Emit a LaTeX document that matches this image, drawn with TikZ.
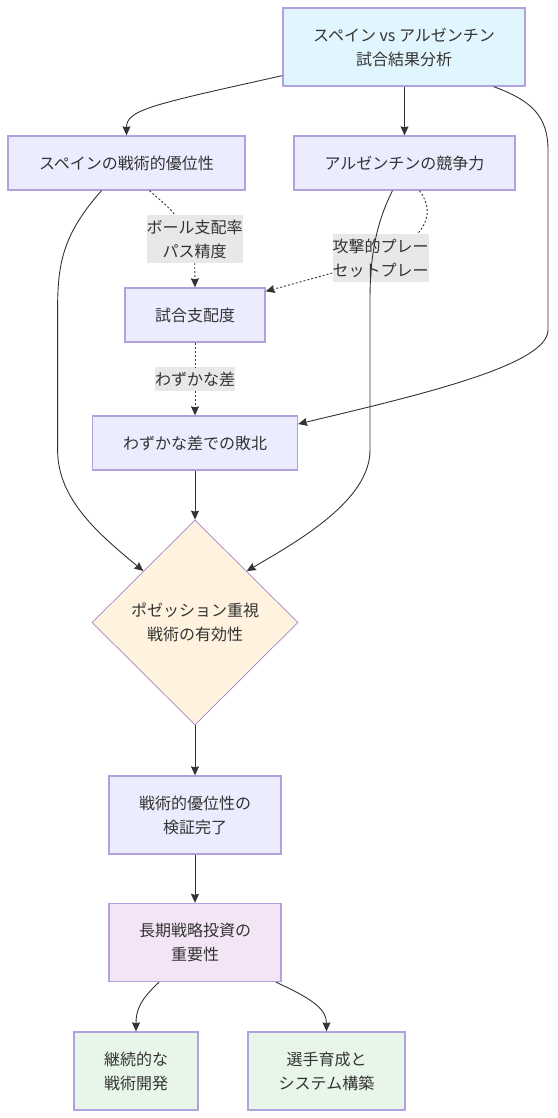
\documentclass[tikz,border=0pt]{standalone}
\usepackage{fontspec}
\setmainfont{Noto Sans CJK JP}
\usetikzlibrary{arrows.meta,shapes.geometric}
\definecolor{ink}{HTML}{333333}
\definecolor{boxline}{HTML}{B0A2DE}
\definecolor{boxfill}{HTML}{ECECFF}
\definecolor{topfill}{HTML}{E1F5FE}
\definecolor{orangefill}{HTML}{FFF3E0}
\definecolor{purplefill}{HTML}{F3E5F5}
\definecolor{greenfill}{HTML}{E8F5E9}
\definecolor{lblfill}{HTML}{E8E8E8}
\begin{document}
\begin{tikzpicture}[x=1pt,y=-1pt,font=\fontsize{16}{24}\selectfont,
    box/.style={rectangle,draw=boxline,line width=1.3pt,fill=boxfill,text=ink,align=center,inner sep=0pt,minimum height=54pt},
    lbl/.style={fill=lblfill,text=ink,align=center,inner sep=0pt},
    link/.style={draw=ink,line width=0.9pt,-{Stealth[length=9pt,width=8pt,inset=1pt]}},
    dot line/.style={draw=ink,line width=0.9pt,dash pattern=on 2pt off 2pt},
    dot link/.style={link,dash pattern=on 2pt off 2pt}]
        \useasboundingbox (0,0) rectangle (557,1118);
        \node [box, fill=topfill, minimum width=242pt, minimum height=78pt] (1) at (404,47) {スペイン vs アルゼンチン\\試合結果分析};
        \node [box, minimum width=237pt] (2) at (126.5,163) {スペインの戦術的優位性};
        \node [box, minimum width=221pt] (3) at (404.5,163) {アルゼンチンの競争力};
        \node [box, minimum width=140pt] (4) at (195,315) {試合支配度};
        \node [box, minimum width=205pt] (5) at (195,443) {わずかな差での敗北};
        \node [diamond, draw=boxline!80!violet, line width=0.7pt, fill=orangefill, text=ink, align=center, inner sep=0pt, minimum width=206pt, minimum height=205pt] (6) at (195,622.5) {ポゼッション重視\\戦術の有効性};
        \node [box, minimum width=172pt, minimum height=78pt] (7) at (195,815) {戦術的優位性の\\検証完了};
        \node [box, fill=purplefill, minimum width=172pt, minimum height=78pt] (8) at (195,942.5) {長期戦略投資の\\重要性};
        \node [box, fill=greenfill, minimum width=124pt, minimum height=78pt] (9) at (136,1071) {継続的な\\戦術開発};
        \node [box, fill=greenfill, minimum width=157pt, minimum height=78pt] (10) at (326.5,1071) {選手育成と\\システム構築};
        % edge labels
        \node [lbl, minimum width=96pt, minimum height=48pt] (11) at (194.7,239) {ボール支配率\\パス精度};
        \node [lbl, minimum width=96pt, minimum height=48pt] (12) at (380.5,258) {攻撃的プレー\\セットプレー};
        \node [lbl, minimum width=80pt, minimum height=24pt] (13) at (195,379) {わずかな差};
        % connectors
        \path [link] ([yshift=11pt]1.south west) .. controls (150,105) and (126.5,110) .. (2.north);
        \path [link] (3.north |- 1.south) -- (3.north);
        \path [link] ([xshift=-32pt]1.south east) .. controls (530,100) and (548,115) .. (548,150) -- (548,330) .. controls (548,365) and (420,395) .. ([yshift=19pt]5.east);
        \path [dot line] ([xshift=23pt]2.south) .. controls (160,200) and (170,208) .. ([xshift=-20pt]11.north);
        \path [dot link] (11.south) -- (4.north);
        \path [dot line] ([xshift=15pt]3.south) .. controls (432,208) and (428,222) .. ([xshift=37pt]12.north);
        \path [dot link] ([yshift=-15pt]12.west) .. controls (300,282) .. ([yshift=-4pt]4.north east);
        \path [dot line] (4.south) -- (13.north);
        \path [dot link] (13.south) -- (5.north);
        \path [link] ([xshift=-25pt]2.south) .. controls (62,235) and (57.6,265) .. (57.6,310) -- (57.6,450) .. controls (57.6,500) and (100,535) .. (6.north west);
        \path [link] ([xshift=-12pt]3.south) .. controls (375,225) and (370,260) .. (370,300) -- (370,450) .. controls (370,500) and (300,540) .. (6.north east);
        \path [link] (5.south) -- (6.north);
        \path [link] (6.south) -- (7.north);
        \path [link] (7.south) -- (8.north);
        \path [link] ([xshift=-36pt]8.south) .. controls (140,1000) and (136,1010) .. (9.north);
        \path [link] ([xshift=81pt]8.south) .. controls (315,1000) and (326.5,1010) .. (10.north);
    \end{tikzpicture}
\end{document}
